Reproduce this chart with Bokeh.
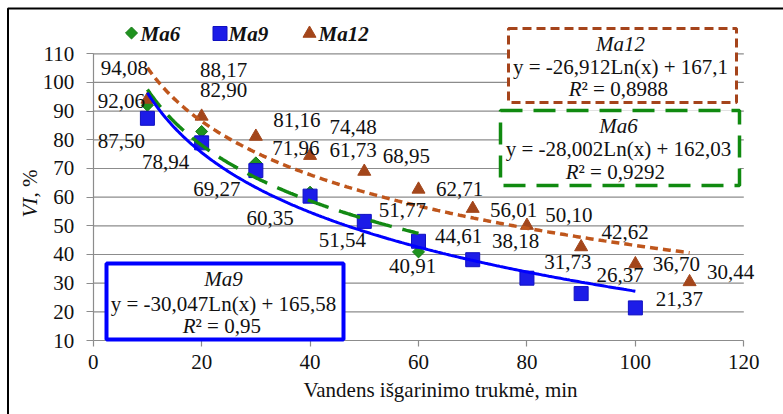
import numpy as np
from bokeh.plotting import figure
from bokeh.models import (ColumnDataSource, LabelSet, Label, BoxAnnotation,
                          Range1d, FixedTicker)
from bokeh.embed import file_html
from bokeh.resources import INLINE

# ---------------- data ----------------
minutes_ma6 = [10, 20, 30, 40, 50, 60]
vi_ma6 = [92.06, 82.90, 71.96, 61.73, 51.77, 40.91]

minutes_ma9 = [10, 20, 30, 40, 50, 60, 70, 80, 90, 100]
vi_ma9 = [87.50, 78.94, 69.27, 60.35, 51.54, 44.61, 38.18, 31.73, 26.37, 21.37]

minutes_ma12 = [10, 20, 30, 40, 50, 60, 70, 80, 90, 100, 110]
vi_ma12 = [94.08, 88.17, 81.16, 74.48, 68.95, 62.71, 56.01, 50.10, 42.62, 36.70, 30.44]

series_names = ["Ma6", "Ma9", "Ma12"]

# logarithmic trend lines y = a*Ln(x) + b, R^2
trend_ma6 = {"a": -28.002, "b": 162.03, "r2": "0,9292"}
trend_ma9 = {"a": -30.047, "b": 165.58, "r2": "0,95"}
trend_ma12 = {"a": -26.912, "b": 167.1, "r2": "0,8988"}
eq_ma6 = "y = -28,002Ln(x) + 162,03"
eq_ma9 = "y = -30,047Ln(x) + 165,58"
eq_ma12 = "y = -26,912Ln(x) + 167,1"

x_ticks = [0, 20, 40, 60, 80, 100, 120]
y_ticks = [10, 20, 30, 40, 50, 60, 70, 80, 90, 100, 110]
x_title = "Vandens išgarinimo trukmė, min"

# ---------------- layout (canvas pixels) ----------------
W, H = 783, 414
XL, XR = 92.7, 743.3      # canvas px of x = 0 and x = 120
YT, YB = 53.3, 340.0      # canvas px of y = 110 and y = 10
X0, X1, Y0, Y1 = x_ticks[0], x_ticks[-1], y_ticks[0], y_ticks[-1]
FONT = "Liberation Serif"
FS = "21px"
TXT = "#111111"
GRID = "#8c8c8c"


def dx(px):
    return X0 + (px - XL) / (XR - XL) * (X1 - X0)


def dy(py):
    return Y1 - (py - YT) / (YB - YT) * (Y1 - Y0)


# label offsets (dx right, dy up) in pixels
off_ma6 = [(-26, 4), (22, 41), (40, 15), (43, 42), (38, 11), (-6, -14)]
off_ma9 = [(-26, -23), (-36, -19), (-39, -18), (-40, -22), (-22, -19),
           (40, 5), (43, 19), (41, 16), (39, 19), (44, 9)]
off_ma12 = [(-23, 31), (22, 46), (41, 16), (43, 29), (42, 15), (41, 0),
            (41, -1), (42, 11), (44, 15), (41, 0), (41, 10)]

GREEN_M, GREEN_E, GREEN_L = "#1f921f", "#157a15", "#138a13"
BLUE_M, BLUE_E, BLUE_L = "#1c1ce8", "#1010c0", "#0000ff"
BROWN_M, BROWN_E, BROWN_L = "#a3461b", "#a3461b", "#bf561c"

p = figure(width=W, height=H, x_range=Range1d(dx(0), dx(W)), y_range=Range1d(dy(H), dy(0)),
           output_backend="svg", toolbar_location=None,
           min_border=0, min_border_left=0, min_border_right=0,
           min_border_top=0, min_border_bottom=0)
p.background_fill_color = "white"
p.border_fill_color = "white"
p.outline_line_color = None
p.xgrid.visible = False
p.ygrid.visible = False

# axes placed at the data origin of the plot area
p.xaxis.fixed_location = Y0
p.yaxis.fixed_location = X0
p.xaxis.bounds = (X0, X1)
p.yaxis.bounds = (Y0, Y1)
p.xaxis.ticker = FixedTicker(ticks=x_ticks)
p.yaxis.ticker = FixedTicker(ticks=y_ticks)
for ax in (p.xaxis[0], p.yaxis[0]):
    ax.axis_line_color = GRID
    ax.axis_line_width = 1.2
    ax.major_tick_line_color = GRID
    ax.major_tick_line_width = 1.2
    ax.minor_tick_line_color = None
    ax.major_tick_in = 0
    ax.major_label_text_font = FONT
    ax.major_label_text_font_size = FS
    ax.major_label_text_color = TXT
p.xaxis.major_tick_out = 6
p.yaxis.major_tick_out = 7
p.xaxis.major_label_standoff = 8
p.yaxis.major_label_standoff = 12

# horizontal gridlines across the plot area
grid_y = y_ticks[1:]
p.segment(x0=[X0] * len(grid_y), x1=[X1] * len(grid_y), y0=grid_y, y1=grid_y,
          line_color=GRID, line_width=1.2)

# markers
s6 = ColumnDataSource(dict(x=minutes_ma6, y=vi_ma6))
s9 = ColumnDataSource(dict(x=minutes_ma9, y=vi_ma9))
s12 = ColumnDataSource(dict(x=minutes_ma12, y=vi_ma12))
mk6 = dict(marker="square", angle=np.pi / 4, size=8.5, fill_color=GREEN_M, line_color=GREEN_E)
mk9 = dict(marker="square", size=14, fill_color=BLUE_M, line_color=BLUE_E)
mk12 = dict(marker="triangle", size=13, fill_color=BROWN_M, line_color=BROWN_E)
p.scatter("x", "y", source=s6, **mk6)
p.scatter("x", "y", source=s9, **mk9)
p.scatter("x", "y", source=s12, **mk12)


# trend lines
def trend(xs_data, t):
    xs = np.linspace(min(xs_data), max(xs_data), 300)
    return xs, t["a"] * np.log(xs) + t["b"]


x6, y6 = trend(minutes_ma6, trend_ma6)
x9, y9 = trend(minutes_ma9, trend_ma9)
x12, y12 = trend(minutes_ma12, trend_ma12)
p.line(x12, y12, line_color=BROWN_L, line_width=3.5, line_dash="8 5")
p.line(x6, y6, line_color=GREEN_L, line_width=3.5, line_dash="22 11")
p.line(x9, y9, line_color=BLUE_L, line_width=3)


# data labels
def fmt(v):
    return f"{v:.2f}".replace(".", ",")


for xs, ys, offs in ((minutes_ma6, vi_ma6, off_ma6), (minutes_ma9, vi_ma9, off_ma9),
                     (minutes_ma12, vi_ma12, off_ma12)):
    src = ColumnDataSource(dict(x=xs, y=ys, t=[fmt(v) for v in ys],
                                ox=[o[0] for o in offs], oy=[o[1] for o in offs]))
    p.add_layout(LabelSet(x="x", y="y", text="t", x_offset="ox", y_offset="oy", source=src,
                          text_align="center", text_baseline="middle", text_font=FONT,
                          text_font_size=FS, text_color=TXT))

# legend above the plot area: marker centre / text start (canvas px)
leg_marker_px = [(131, 32.5), (219.5, 33), (309, 33)]
leg_text_px = [140, 228, 318]
leg_y_px = 33
for name, mk, (mx, my), tx in zip(series_names, (mk6, mk9, mk12), leg_marker_px, leg_text_px):
    p.scatter(x=[dx(mx)], y=[dy(my)], **mk)
    p.add_layout(Label(x=dx(tx), y=dy(leg_y_px), text=name, text_font=FONT,
                       text_font_size=FS, text_font_style="bold italic",
                       text_align="left", text_baseline="middle", text_color=TXT))

# x-axis title
p.add_layout(Label(x=dx(440), y=dy(389.5), text=x_title, text_font=FONT, text_font_size=FS,
                   text_align="center", text_baseline="middle", text_color=TXT))

# y-axis title: italic "VI" + ", %"
p.add_layout(Label(x=dx(29), y=dy(217), text="VI", angle=np.pi / 2, text_font=FONT,
                   text_font_size=FS, text_font_style="italic", text_align="left",
                   text_baseline="middle", text_color=TXT))
p.add_layout(Label(x=dx(29), y=dy(197), text=", %", angle=np.pi / 2, text_font=FONT,
                   text_font_size=FS, text_align="left", text_baseline="middle",
                   text_color=TXT))


# trend-line boxes
def eq_box(box, color, width, dash, name, eq, r2, cx, rows, rx):
    l, r, t, b = box
    p.add_layout(BoxAnnotation(left=dx(l), right=dx(r), top=dy(t), bottom=dy(b),
                               fill_color="white", fill_alpha=1, line_color=color,
                               line_alpha=1, line_width=width, line_dash=dash))
    common = dict(text_font=FONT, text_font_size=FS, text_baseline="middle", text_color=TXT)
    p.add_layout(Label(x=dx(cx), y=dy(rows[0]), text=name, text_font_style="italic",
                       text_align="center", **common))
    p.add_layout(Label(x=dx(cx), y=dy(rows[1]), text=eq, text_align="center", **common))
    p.add_layout(Label(x=dx(rx), y=dy(rows[2]), text="R", text_font_style="italic",
                       text_align="right", **common))
    p.add_layout(Label(x=dx(rx), y=dy(rows[2]), text="² = " + r2, text_align="left", **common))


eq_box((508, 736, 28, 102), "#a5441b", 3, "9 5", "Ma12", eq_ma12, trend_ma12["r2"],
       620, (43.5, 66.5, 88.5), 581)
eq_box((500, 739, 110, 185), "#108a10", 3.5, "22 11", "Ma6", eq_ma6, trend_ma6["r2"],
       618, (125.5, 148.5, 171.5), 578)
eq_box((106, 343, 263, 339), "#0000ff", 4, "solid", "Ma9", eq_ma9, trend_ma9["r2"],
       223, (278.5, 303.5, 325), 195)

# outer chart border (left and top edges visible)
p.add_layout(BoxAnnotation(left=dx(7.5), right=dx(W + 10), top=dy(8), bottom=dy(H + 10),
                           fill_alpha=0, line_color="black", line_alpha=1, line_width=2))

open("out.html", "w").write(file_html(p, INLINE))
